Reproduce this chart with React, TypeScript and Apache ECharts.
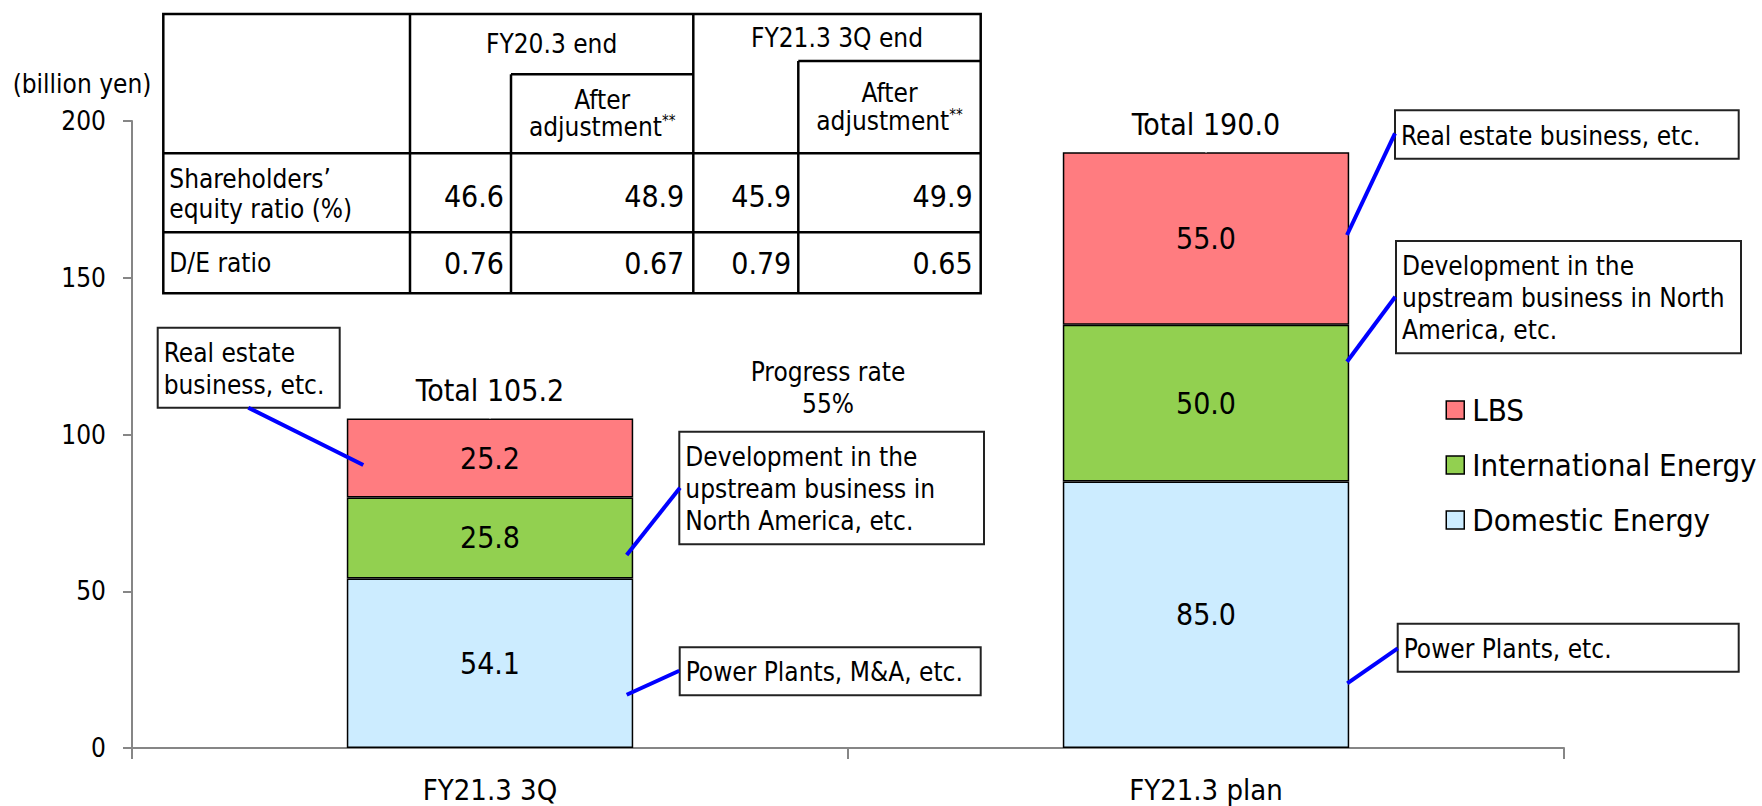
import React, { useEffect, useRef } from "react";
import * as echarts from "echarts";

// ---------- data ----------
const categories = ["FY21.3 3Q", "FY21.3 plan"];
const domesticEnergy = [54.1, 85.0];
const internationalEnergy = [25.8, 50.0];
const lbs = [25.2, 55.0];
const totals = [105.2, 190.0];
const yMin = 0;
const yMax = 200;
const yInterval = 50;
const yAxisUnit = "(billion yen)";
const legendNames = ["LBS", "International Energy", "Domestic Energy"];
const progressText = "Progress rate\n55%";

// table
const tableGroups = ["FY20.3 end", "FY21.3 3Q end"];
const subHeaderTop = "After";
const subHeaderBottom = "adjustment";
const subHeaderMark = "**";
const rowLabels = ["Shareholders\u2019\nequity ratio (%)", "D/E ratio"];
const equityRatio = [46.6, 48.9, 45.9, 49.9];
const deRatio = [0.76, 0.67, 0.79, 0.65];

// callouts
const calloutTexts = [
  "Real estate\nbusiness, etc.",
  "Development in the\nupstream business in\nNorth America, etc.",
  "Power Plants, M&A, etc.",
  "Real estate business, etc.",
  "Development in the\nupstream business in North\nAmerica, etc.",
  "Power Plants, etc.",
];

// ---------- styles / layout ----------
const FF = "'DejaVu Sans Condensed', 'DejaVu Sans', sans-serif";
const AXIS_GRAY = "#868686";
const COLORS = { lbs: "#FF7C80", intl: "#92D050", dom: "#CCECFF" };

function txt(text: string, x: number, y: number, size: number, align: string, vAlign = "middle", lh?: number) {
  return {
    type: "text",
    z: 100,
    silent: true,
    style: {
      text,
      x,
      y,
      fontSize: size,
      fontFamily: FF,
      fill: "#000",
      align,
      textAlign: align,
      verticalAlign: vAlign,
      textVerticalAlign: vAlign,
      lineHeight: lh || size,
    },
  };
}

function ln(x1: number, y1: number, x2: number, y2: number, color: string, w: number) {
  return {
    type: "line",
    z: 100,
    silent: true,
    shape: { x1, y1, x2, y2 },
    style: { stroke: color, lineWidth: w },
  };
}

function box(x: number, y: number, w: number, h: number) {
  return {
    type: "rect",
    z: 99,
    silent: true,
    shape: { x, y, width: w, height: h },
    style: { fill: "#fff", stroke: "#222", lineWidth: 2 },
  };
}

function supText(x: number, y: number) {
  return {
    type: "text",
    z: 100,
    silent: true,
    style: {
      text: `{a|${subHeaderBottom}}{s|${subHeaderMark}}`,
      x,
      y,
      align: "center",
      textAlign: "center",
      verticalAlign: "middle",
      textVerticalAlign: "middle",
      fill: "#000",
      rich: {
        a: { fontSize: 26, fontFamily: FF, fill: "#000", lineHeight: 28 },
        s: { fontSize: 15, fontFamily: FF, fill: "#000", verticalAlign: "top", lineHeight: 15 },
      },
    },
  };
}

function buildTable() {
  const L = 163.3, R = 980.7, T = 14, B = 293.3;
  const c1 = 410, c1s = 511, c2 = 693.3, c2s = 798.3;
  const hBottom = 153.3, rowDiv = 232.3;
  const sub1 = 74.3, sub2 = 61;
  const W = 2.5;
  const els: any[] = [];
  els.push({
    type: "rect", z: 99, silent: true,
    shape: { x: L, y: T, width: R - L, height: B - T },
    style: { fill: "#fff", stroke: "#000", lineWidth: W },
  });
  els.push(ln(c1, T, c1, B, "#000", W));
  els.push(ln(c2, T, c2, B, "#000", W));
  els.push(ln(c1s, sub1, c1s, B, "#000", W));
  els.push(ln(c2s, sub2, c2s, B, "#000", W));
  els.push(ln(c1s, sub1, c2, sub1, "#000", W));
  els.push(ln(c2s, sub2, R, sub2, "#000", W));
  els.push(ln(L, hBottom, R, hBottom, "#000", W));
  els.push(ln(L, rowDiv, R, rowDiv, "#000", W));
  // headers
  els.push(txt(tableGroups[0], (c1 + c2) / 2, (T + sub1) / 2, 26, "center"));
  els.push(txt(tableGroups[1], (c2 + R) / 2, (T + sub2) / 2, 26, "center"));
  els.push(txt(subHeaderTop, (c1s + c2) / 2, 100, 26, "center"));
  els.push(supText((c1s + c2) / 2, 127));
  els.push(txt(subHeaderTop, (c2s + R) / 2, 93, 26, "center"));
  els.push(supText((c2s + R) / 2, 121));
  // row labels
  els.push(txt(rowLabels[0], L + 6, 194, 26, "left", "middle", 30));
  els.push(txt(rowLabels[1], L + 6, 263, 26, "left"));
  // values
  const rights = [c1s - 7, c2 - 9, c2s - 7, R - 8];
  equityRatio.forEach((v, i) => els.push(txt(v.toFixed(1), rights[i], 196, 30, "right")));
  deRatio.forEach((v, i) => els.push(txt(v.toFixed(2), rights[i], 263.5, 30, "right")));
  return els;
}

function buildCallouts() {
  const els: any[] = [];
  const boxes = [
    [157.7, 327.7, 182, 80],
    [679.3, 431.7, 304.7, 112.6],
    [679.7, 647.3, 301, 48],
    [1395, 110.3, 343.7, 48.4],
    [1396, 241, 345, 112.3],
    [1397.7, 623.7, 341, 48],
  ];
  const connectors = [
    [248.3, 407.7, 363.3, 465],
    [680, 487.7, 626.7, 555],
    [679.3, 670.7, 626.7, 694.7],
    [1395, 133.3, 1347, 235],
    [1395.3, 296.7, 1347, 361.7],
    [1397.7, 648.3, 1347.3, 683.3],
  ];
  connectors.forEach((c) => els.push(ln(c[0], c[1], c[2], c[3], "#0000FF", 4)));
  boxes.forEach((b, i) => {
    els.push(box(b[0], b[1], b[2], b[3]));
    els.push(txt(calloutTexts[i], b[0] + 6, b[1] + b[3] / 2 + 1, 26, "left", "middle", 32));
  });
  return els;
}

function buildOption() {
  const segLabel = {
    show: true,
    position: "inside",
    fontSize: 30,
    fontFamily: FF,
    color: "#000",
    formatter: (p: any) => Number(p.value).toFixed(1),
  };
  const barCommon = {
    type: "bar",
    stack: "total",
    barWidth: "40%",
    label: segLabel,
  };
  return {
    animation: false,
    backgroundColor: "#fff",
    textStyle: { fontFamily: FF, color: "#000" },
    grid: { left: 132, right: 198, top: 121, bottom: 58, containLabel: false },
    legend: {
      data: legendNames,
      orient: "vertical",
      left: 1445.5,
      top: 394.5,
      padding: 0,
      itemGap: 24,
      itemWidth: 18,
      itemHeight: 18,
      icon: "rect",
      selectedMode: false,
      itemStyle: { borderColor: "#000", borderWidth: 1.5 },
      textStyle: { fontSize: 31, fontFamily: FF, color: "#000", lineHeight: 31, padding: [0, 0, 0, 3] },
    },
    xAxis: {
      type: "category",
      data: categories,
      boundaryGap: true,
      axisLine: { show: true, lineStyle: { color: AXIS_GRAY, width: 2 } },
      axisTick: { show: true, length: 11, alignWithLabel: false, lineStyle: { color: AXIS_GRAY, width: 2 } },
      axisLabel: { fontSize: 29, fontFamily: FF, color: "#000", margin: 27 },
      splitLine: { show: false },
    },
    yAxis: {
      type: "value",
      min: yMin,
      max: yMax,
      interval: yInterval,
      axisLine: { show: true, lineStyle: { color: AXIS_GRAY, width: 2 } },
      axisTick: { show: true, length: 9, lineStyle: { color: AXIS_GRAY, width: 2 } },
      axisLabel: { fontSize: 26, fontFamily: FF, color: "#000", margin: 26 },
      splitLine: { show: false },
    },
    series: [
      { ...barCommon, name: "Domestic Energy", data: domesticEnergy, itemStyle: { color: COLORS.dom, borderColor: "#000", borderWidth: 1.5 } },
      { ...barCommon, name: "International Energy", data: internationalEnergy, itemStyle: { color: COLORS.intl, borderColor: "#000", borderWidth: 1.5 } },
      { ...barCommon, name: "LBS", data: lbs, itemStyle: { color: COLORS.lbs, borderColor: "#000", borderWidth: 1.5 } },
      {
        name: "Total",
        type: "scatter",
        data: totals,
        symbolSize: 1,
        silent: true,
        itemStyle: { color: "#ffffff", opacity: 1 },
        label: {
          show: true,
          position: "top",
          distance: 12,
          fontSize: 30,
          fontFamily: FF,
          color: "#000000",
          opacity: 1,
          formatter: (p: any) => "Total " + Number(p.value).toFixed(1),
        },
        z: 10,
      },
    ],
    graphic: [
      txt(yAxisUnit, 82, 84, 26, "center"),
      txt(progressText, 828, 388, 26, "center", "middle", 32),
      ...buildTable(),
      ...buildCallouts(),
    ],
  };
}

export default function App() {
  const ref = useRef<HTMLDivElement>(null);
  useEffect(() => {
    if (!ref.current) return;
    const chart = echarts.init(ref.current, null, { renderer: "svg" });
    chart.setOption(buildOption() as any);
    return () => chart.dispose();
  }, []);
  return (
    <div
      ref={ref}
      style={{ position: "absolute", left: 0, top: 0, width: 1762, height: 806, background: "#fff" }}
    />
  );
}
